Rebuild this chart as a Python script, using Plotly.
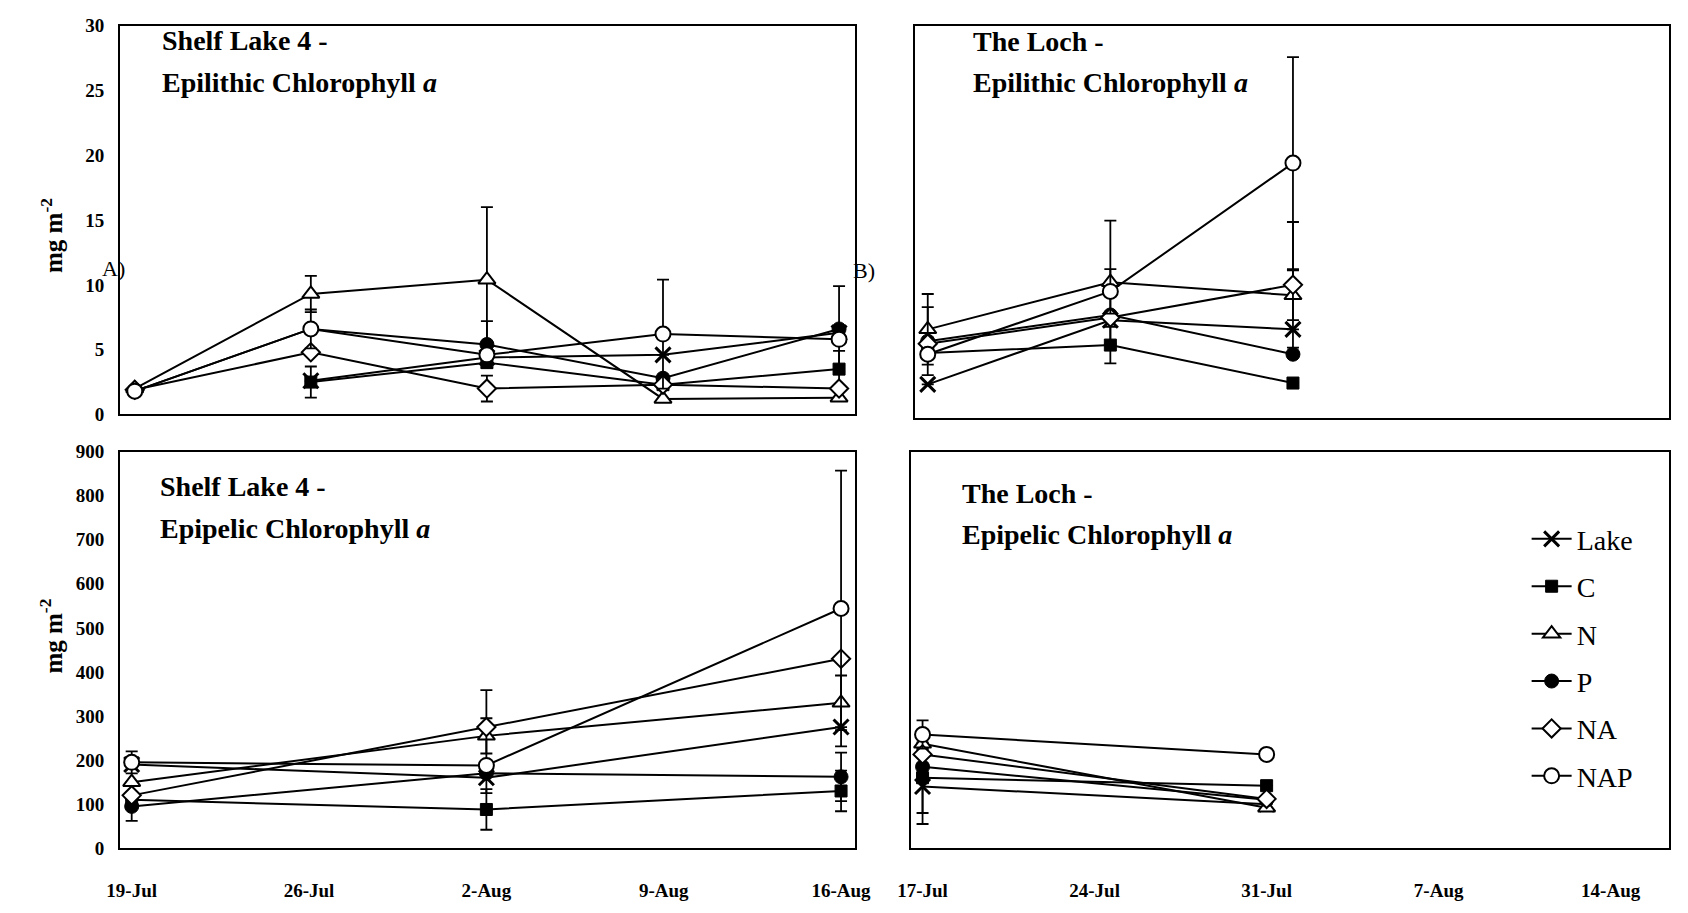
import plotly.graph_objects as go

# ---------------- data ----------------
series = ["Lake", "C", "N", "P", "NA", "NAP"]

# Shelf Lake 4 - epilithic (mg m-2)
dates_sl_epil = ["2001-07-19", "2001-07-26", "2001-08-02", "2001-08-09", "2001-08-16"]
sl_epil = {
    "Lake": [None, 2.6, 4.4, 4.6, 6.3],
    "C":    [None, 2.5, 4.0, 2.3, 3.5],
    "N":    [2.0, 9.3, 10.4, 1.2, 1.3],
    "P":    [1.8, 6.6, 5.4, 2.8, 6.6],
    "NA":   [1.9, 4.8, 2.0, 2.3, 2.0],
    "NAP":  [1.8, 6.6, 4.6, 6.2, 5.8],
}
sl_epil_err = {
    "Lake": [0, 0, 0, 0, 0],
    "C":    [0, 1.2, 0, 0, 1.4],
    "N":    [0, 1.4, 5.6, 0, 0],
    "P":    [0, 0, 1.8, 0, 3.3],
    "NA":   [0, 0, 1.0, 0, 0],
    "NAP":  [0, 1.5, 0, 4.2, 0],
}

# The Loch - epilithic
dates_loch_epil = ["2001-07-17", "2001-07-24", "2001-07-31"]
loch_epil = {
    "Lake": [2.6, 7.5, 6.8],
    "C":    [5.0, 5.6, 2.7],
    "N":    [6.8, 10.4, 9.4],
    "P":    [5.9, 7.9, 4.9],
    "NA":   [5.7, 7.7, 10.2],
    "NAP":  [4.9, 9.7, 19.5],
}
loch_epil_err = {
    "Lake": [0, 0, 0],
    "C":    [0, 1.4, 0],
    "N":    [2.7, 4.7, 1.9],
    "P":    [2.6, 0, 0],
    "NA":   [0, 0, 4.8],
    "NAP":  [0, 1.7, 8.1],
}

# Shelf Lake 4 - epipelic
dates_sl_epip = ["2001-07-19", "2001-08-02", "2001-08-16"]
sl_epip = {
    "Lake": [190, 160, 275],
    "C":    [110, 88, 130],
    "N":    [150, 255, 330],
    "P":    [95, 170, 162],
    "NA":   [120, 275, 430],
    "NAP":  [195, 188, 544],
}
sl_epip_err = {
    "Lake": [0, 35, 0],
    "C":    [0, 46, 46],
    "N":    [0, 40, 62],
    "P":    [33, 0, 55],
    "NA":   [0, 84, 0],
    "NAP":  [25, 0, 313],
}

# The Loch - epipelic
dates_loch_epip = ["2001-07-17", "2001-07-31"]
loch_epip = {
    "Lake": [140, 100],
    "C":    [160, 142],
    "N":    [237, 92],
    "P":    [185, 110],
    "NA":   [213, 112],
    "NAP":  [258, 213],
}
loch_epip_err = {
    "Lake": [85, 0],
    "C":    [80, 0],
    "N":    [0, 0],
    "P":    [0, 0],
    "NA":   [0, 0],
    "NAP":  [32, 0],
}

# ---------------- styles ----------------
FONT = "Liberation Serif, Times New Roman, serif"
marker_style = {
    "Lake": dict(symbol="x-thin-open", size=15, color="black", line=dict(color="black", width=3)),
    "C":    dict(symbol="square", size=12, color="black", line=dict(color="black", width=1)),
    "N":    dict(symbol="triangle-up", size=15, color="white", line=dict(color="black", width=2)),
    "P":    dict(symbol="circle", size=14, color="black", line=dict(color="black", width=1)),
    "NA":   dict(symbol="diamond", size=14, color="white", line=dict(color="black", width=2)),
    "NAP":  dict(symbol="circle", size=15, color="white", line=dict(color="black", width=2)),
}

fig = go.Figure()

panels = [
    (dates_sl_epil, sl_epil, sl_epil_err, "x", "y", False),
    (dates_loch_epil, loch_epil, loch_epil_err, "x2", "y2", False),
    (dates_sl_epip, sl_epip, sl_epip_err, "x3", "y3", False),
    (dates_loch_epip, loch_epip, loch_epip_err, "x4", "y4", True),
]

for dates, vals, errs, xa, ya, leg in panels:
    for s in series:
        fig.add_trace(go.Scatter(
            x=dates, y=vals[s], name=s, legendgroup=s, showlegend=leg,
            xaxis=xa, yaxis=ya, mode="lines+markers",
            line=dict(color="black", width=2),
            marker=marker_style[s],
            error_y=dict(type="data", array=errs[s], visible=True,
                         color="black", thickness=1.8, width=6),
            cliponaxis=False,
        ))

W, H = 1688, 913
def px(x): return x / W
def py(y): return 1 - y / H

axis_common = dict(showline=True, mirror=True, linecolor="black", linewidth=2,
                   showgrid=False, zeroline=False, ticks="",
                   tickfont=dict(family=FONT, size=19, color="black", weight="bold"))

fig.update_layout(
    width=W, height=H, margin=dict(l=0, r=0, t=0, b=0),
    paper_bgcolor="white", plot_bgcolor="white",
    showlegend=True,
    legend=dict(x=px(1540), y=py(516), xanchor="left", yanchor="top",
                font=dict(family=FONT, size=28, color="black"),
                bgcolor="rgba(0,0,0,0)", tracegroupgap=8, traceorder="grouped",
                itemwidth=40),
    xaxis=dict(domain=[px(108), px(856)], anchor="y", type="date",
               range=["2001-07-18 10:00", "2001-08-16 15:00"],
               showticklabels=False, **axis_common),
    yaxis=dict(domain=[py(414), py(16)], anchor="x", range=[0, 30], dtick=5,
               ticklabelstandoff=10, **axis_common),
    xaxis2=dict(domain=[px(917), px(1685)], anchor="y2", type="date",
                range=["2001-07-16 12:00", "2001-08-14 10:00"],
                showticklabels=False, **axis_common),
    yaxis2=dict(domain=[py(418), py(16)], anchor="x2", range=[0, 30],
                showticklabels=False, **axis_common),
    xaxis3=dict(domain=[px(108), px(856)], anchor="y3", type="date",
                range=["2001-07-18 13:00", "2001-08-16 13:00"],
                tickvals=["2001-07-19", "2001-07-26", "2001-08-02", "2001-08-09", "2001-08-16"],
                tickformat="%-d-%b", ticklabelstandoff=24, **axis_common),
    yaxis3=dict(domain=[py(858), py(452)], anchor="x3", range=[0, 900], dtick=100,
                ticklabelstandoff=10, **axis_common),
    xaxis4=dict(domain=[px(913), px(1685)], anchor="y4", type="date",
                range=["2001-07-16 12:30", "2001-08-16 09:00"],
                tickvals=["2001-07-17", "2001-07-24", "2001-07-31", "2001-08-07", "2001-08-14"],
                tickformat="%-d-%b", ticklabelstandoff=24, **axis_common),
    yaxis4=dict(domain=[py(858), py(452)], anchor="x4", range=[0, 900],
                showticklabels=False, **axis_common),
)

ann_font = dict(family=FONT, size=28, color="black")
titles = [
    (149, 31, "<b>Shelf Lake 4 -</b>"),
    (149, 74, "<b>Epilithic Chlorophyll <i>a</i></b>"),
    (974, 32, "<b>The Loch -</b>"),
    (974, 74, "<b>Epilithic Chlorophyll <i>a</i></b>"),
    (147, 488, "<b>Shelf Lake 4 -</b>"),
    (147, 531, "<b>Epipelic Chlorophyll <i>a</i></b>"),
    (963, 495, "<b>The Loch -</b>"),
    (963, 537, "<b>Epipelic Chlorophyll <i>a</i></b>"),
]
for x, y, t in titles:
    fig.add_annotation(x=px(x), y=py(y), xref="paper", yref="paper", text=t,
                       showarrow=False, xanchor="left", yanchor="middle", font=ann_font)

for y in (231, 641):
    fig.add_annotation(x=px(38), y=py(y), xref="paper", yref="paper",
                       text="<b>mg m<sup>-2</sup></b>", textangle=-90, showarrow=False,
                       xanchor="center", yanchor="middle",
                       font=dict(family=FONT, size=25, color="black"))

fig.add_annotation(x=px(88), y=py(265), xref="paper", yref="paper", text="A)",
                   showarrow=False, xanchor="left", yanchor="middle",
                   font=dict(family=FONT, size=22, color="black"))
fig.add_annotation(x=px(852), y=py(267), xref="paper", yref="paper", text="B)",
                   showarrow=False, xanchor="left", yanchor="middle",
                   font=dict(family=FONT, size=22, color="black"))

fig.write_html("out.html")
